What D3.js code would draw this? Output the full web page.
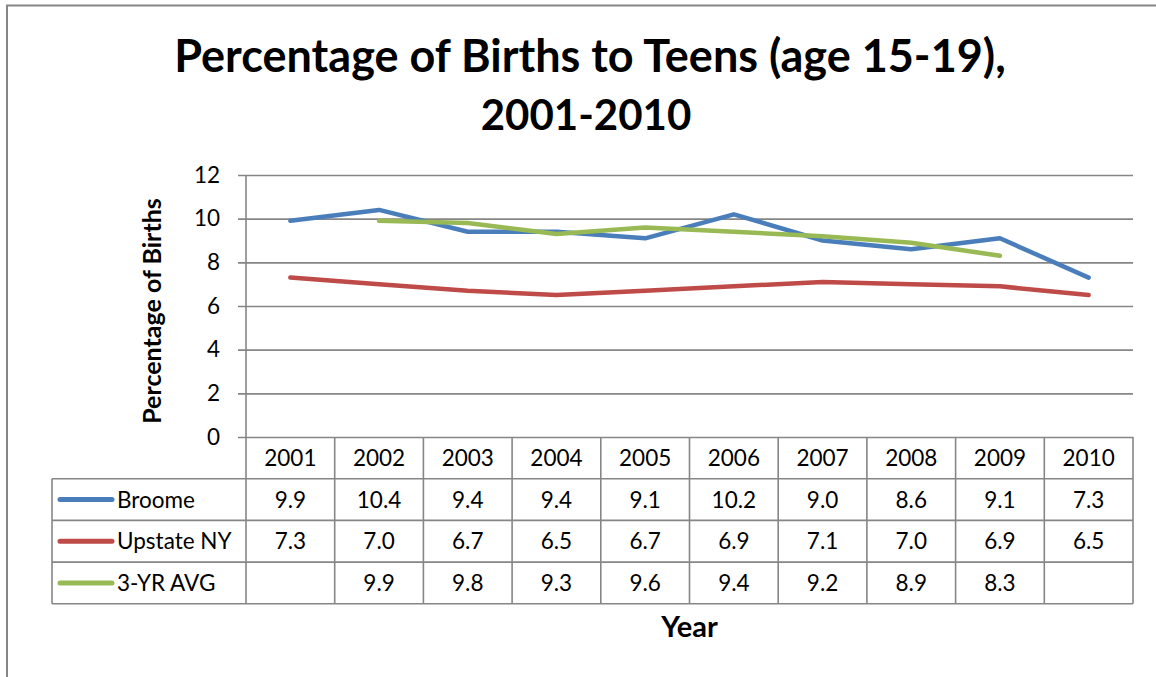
<!DOCTYPE html>
<html>
<head>
<meta charset="utf-8">
<script src="https://cdn.jsdelivr.net/npm/d3@7"></script>
<style>
  body { margin: 0; background: #fff; }
  svg { display: block; font-family: Lato, "Noto Sans", sans-serif; }
</style>
</head>
<body>
<svg width="1156" height="677"></svg>
<script>
const years = ['2001','2002','2003','2004','2005','2006','2007','2008','2009','2010'];
const broome = [9.9, 10.4, 9.4, 9.4, 9.1, 10.2, 9.0, 8.6, 9.1, 7.3];
const upstate = [7.3, 7.0, 6.7, 6.5, 6.7, 6.9, 7.1, 7.0, 6.9, 6.5];
const avg3yr = [null, 9.9, 9.8, 9.3, 9.6, 9.4, 9.2, 8.9, 8.3, null];
const seriesNames = ['Broome', 'Upstate NY', '3-YR AVG'];
const seriesColors = ['#4a7ebb', '#be4b48', '#98b954'];
const yTicks = [0, 2, 4, 6, 8, 10, 12];

const svg = d3.select('svg');
const width = +svg.attr('width');
const height = +svg.attr('height');

const gridColor = '#868686';
const plot = { left: 246, right: 1133, top: 175, bottom: 437 };
const rowH = 41.7;
const tableLeft = 52;
const fs = 22.5; // table + tick font size

const series = [broome, upstate, avg3yr].map((vals, i) => ({
    name: seriesNames[i],
    color: seriesColors[i],
    values: vals.map((v, j) => ({ year: years[j], value: v }))
}));

// outer chart border
svg.append('rect')
    .attr('x', 7).attr('y', 5.5)
    .attr('width', width + 20).attr('height', height + 20)
    .attr('fill', 'none')
    .attr('stroke', gridColor)
    .attr('stroke-width', 2);

const x = d3.scaleBand()
    .domain(years)
    .range([plot.left, plot.right]);

const y = d3.scaleLinear()
    .domain([0, 12])
    .range([plot.bottom, plot.top]);

// title
const title = svg.append('text')
    .attr('text-anchor', 'middle')
    .attr('font-weight', 'bold')
    .attr('fill', '#000');
title.append('tspan').attr('x', 590).attr('y', 72).attr('font-size', 45)
    .text('Percentage of Births to Teens (age 15-19),');
title.append('tspan').attr('x', 586).attr('y', 130).attr('font-size', 42)
    .text('2001-2010');

// y axis with gridlines
const yAxisG = svg.append('g')
    .attr('transform', `translate(${plot.left - 8},0)`)
    .call(d3.axisLeft(y)
        .tickValues(yTicks)
        .tickSize(-(plot.right - plot.left + 8))
        .tickPadding(18));
yAxisG.select('.domain').remove();
yAxisG.selectAll('.tick line')
    .attr('stroke', gridColor)
    .attr('stroke-width', 1.6);
yAxisG.selectAll('.tick text')
    .attr('font-family', 'Lato, sans-serif')
    .attr('font-size', fs)
    .attr('fill', '#000');

svg.append('line')
    .attr('x1', plot.left).attr('x2', plot.left)
    .attr('y1', plot.top).attr('y2', plot.bottom)
    .attr('stroke', gridColor).attr('stroke-width', 1.6);

// y axis title
svg.append('text')
    .attr('transform', `translate(161,${(plot.top + plot.bottom) / 2 + 5}) rotate(-90)`)
    .attr('text-anchor', 'middle')
    .attr('font-weight', 'bold')
    .attr('font-size', 25)
    .text('Percentage of Births');

// lines
const line = d3.line()
    .defined(d => d.value != null)
    .x(d => x(d.year) + x.bandwidth() / 2)
    .y(d => y(d.value));

svg.append('g').selectAll('path')
    .data(series)
    .enter().append('path')
        .attr('d', d => line(d.values))
        .attr('fill', 'none')
        .attr('stroke', d => d.color)
        .attr('stroke-width', 4.5)
        .attr('stroke-linecap', 'round')
        .attr('stroke-linejoin', 'round');

// data table
const table = svg.append('g');
const tableBottom = plot.bottom + rowH * 4;
const gl = (x1, y1, x2, y2) => table.append('line')
    .attr('x1', x1).attr('y1', y1).attr('x2', x2).attr('y2', y2)
    .attr('stroke', gridColor).attr('stroke-width', 1.6);

years.forEach(yr => gl(x(yr), plot.bottom, x(yr), tableBottom));
gl(plot.right, plot.bottom, plot.right, tableBottom);
gl(tableLeft, plot.bottom + rowH, tableLeft, tableBottom);
for (let r = 1; r <= 4; r++) {
    gl(tableLeft, plot.bottom + rowH * r, plot.right, plot.bottom + rowH * r);
}

table.selectAll('.yr')
    .data(years)
    .enter().append('text')
        .attr('x', d => x(d) + x.bandwidth() / 2)
        .attr('y', plot.bottom + rowH / 2 + 8)
        .attr('text-anchor', 'middle')
        .attr('font-size', fs)
        .text(d => d);

series.forEach((s, i) => {
    const cy = plot.bottom + rowH * (i + 1) + rowH / 2;
    table.append('line')
        .attr('x1', 60).attr('x2', 112)
        .attr('y1', cy).attr('y2', cy)
        .attr('stroke', s.color)
        .attr('stroke-width', 5)
        .attr('stroke-linecap', 'round');
    table.append('text')
        .attr('x', 117).attr('y', cy + 8)
        .attr('font-size', fs)
        .text(s.name);
    table.selectAll('.v' + i)
        .data(s.values.filter(d => d.value != null))
        .enter().append('text')
            .attr('x', d => x(d.year) + x.bandwidth() / 2)
            .attr('y', cy + 8)
            .attr('text-anchor', 'middle')
            .attr('font-size', fs)
            .text(d => d.value.toFixed(1));
});

// x axis title
svg.append('text')
    .attr('x', (plot.left + plot.right) / 2)
    .attr('y', 637)
    .attr('text-anchor', 'middle')
    .attr('font-weight', 'bold')
    .attr('font-size', 29)
    .text('Year');
</script>
</body>
</html>
